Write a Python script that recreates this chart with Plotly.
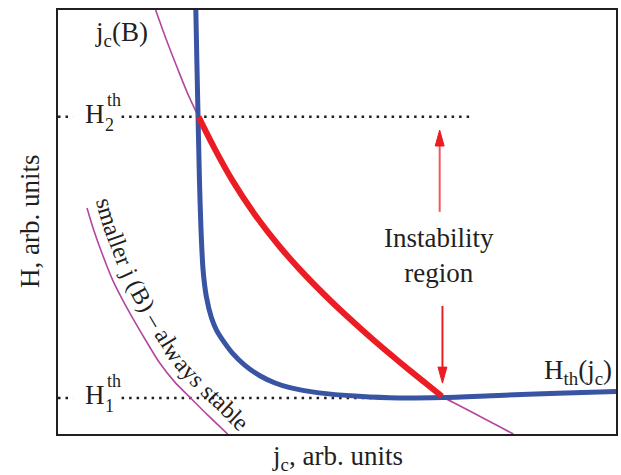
import numpy as np
import plotly.graph_objects as go

# Threshold field H_th(j_c): near-vertical branch, knee and shallow minimum
hth_jc = [2.47, 2.488, 2.51, 2.535, 2.563, 2.60, 2.66, 2.75, 2.84, 2.98, 3.13, 3.34,
          3.61, 3.88, 4.14, 4.68, 5.39, 6.11, 6.88, 7.89, 8.96, 10.0]
hth_h = [10.0, 8.82, 7.48, 5.99, 4.81, 3.87, 3.23, 2.74, 2.45, 2.16, 1.90, 1.63,
         1.38, 1.21, 1.10, 0.97, 0.89, 0.85, 0.86, 0.91, 0.96, 1.00]

# Critical current j_c(B)
jcb_jc = [1.75, 1.93, 2.13, 2.32, 2.52, 2.80, 3.13, 3.52, 3.96, 4.32, 4.77, 5.21,
          5.66, 6.11, 6.52, 6.88, 7.18, 7.54, 7.89, 8.16]
jcb_h = [10.0, 9.34, 8.66, 8.04, 7.48, 6.75, 5.97, 5.19, 4.44, 3.90, 3.29, 2.74,
         2.21, 1.71, 1.27, 0.89, 0.68, 0.43, 0.19, 0.0]
unstable_from, unstable_to = 4, 15   # j_c(B) points lying above H_th

# A smaller j_c(B) that never crosses H_th
small_jc = [0.52, 0.64, 0.80, 0.98, 1.16, 1.38, 1.59, 1.82, 2.09, 2.36, 2.68, 3.04]
small_h = [5.33, 4.81, 4.22, 3.63, 3.16, 2.64, 2.17, 1.68, 1.23, 0.87, 0.45, 0.0]

# Threshold levels
h2_level = 7.48
h1_level = 0.85
h2_dots_end = 7.39
h1_dots_end = 6.88
label_gap = (0.27, 1.14)

BLUE = "#3a54a4"
RED = "#ec1c24"
MAGENTA = "#b3479f"
INK = "#231f20"
FONT = "Liberation Serif"
FS = 27

W, H = 621, 475
M = dict(l=58, r=3, t=10, b=41)
XR, YR = (0, 10), (0, 10)
pw, ph = W - M["l"] - M["r"], H - M["t"] - M["b"]


def to_px(x, y):
    x, y = np.asarray(x, float), np.asarray(y, float)
    return (M["l"] + (x - XR[0]) / (XR[1] - XR[0]) * pw,
            M["t"] + (YR[1] - y) / (YR[1] - YR[0]) * ph)


def from_px(px, py):
    return (XR[0] + (px - M["l"]) / pw * (XR[1] - XR[0]),
            YR[1] - (py - M["t"]) / ph * (YR[1] - YR[0]))


fig = go.Figure()

dot = dict(color=INK, width=2.5, dash="2.5px,5px")
for lvl, end in ((h2_level, h2_dots_end), (h1_level, h1_dots_end)):
    fig.add_trace(go.Scatter(x=[XR[0], label_gap[0], None, label_gap[1], end],
                             y=[lvl, lvl, None, lvl, lvl],
                             mode="lines", line=dot, connectgaps=False))

spl = dict(shape="spline", smoothing=0.8)
fig.add_trace(go.Scatter(x=small_jc, y=small_h, mode="lines",
                         line=dict(color=MAGENTA, width=1.6, **spl)))
fig.add_trace(go.Scatter(x=jcb_jc, y=jcb_h, mode="lines",
                         line=dict(color=MAGENTA, width=1.6, **spl)))
fig.add_trace(go.Scatter(x=hth_jc, y=hth_h, mode="lines",
                         line=dict(color=BLUE, width=5, **spl)))
fig.add_trace(go.Scatter(x=jcb_jc[unstable_from:unstable_to + 1],
                         y=jcb_h[unstable_from:unstable_to + 1], mode="lines",
                         line=dict(color=RED, width=6, **spl)))

# Arrows bounding the instability region
x_per_px = (XR[1] - XR[0]) / pw
y_per_px = (YR[1] - YR[0]) / ph
head_len, head_half = 16 * y_per_px, 4.5 * x_per_px
arrows = [
    (6.84, 5.24, 7.17, "#f0585c"),   # upward: x, tail, tip
    (6.89, 3.02, 1.20, RED),         # downward
]
shapes = []
for ax_, tail, tip, col in arrows:
    sgn = 1 if tip > tail else -1
    base = tip - sgn * head_len
    shapes.append(dict(type="line", xref="x", yref="y", x0=ax_, x1=ax_, y0=tail, y1=base,
                       line=dict(color=col, width=2)))
    shapes.append(dict(type="path", xref="x", yref="y",
                       path=f"M{ax_ - head_half},{base} L{ax_},{tip} L{ax_ + head_half},{base} Z",
                       fillcolor=RED, line=dict(color=RED, width=1)))

ann = []


def label(x, y, text, size=FS, xshift=0, yshift=0, angle=0, xanchor="center"):
    ann.append(dict(x=x, y=y, xref="x", yref="y", text=text, showarrow=False,
                    font=dict(family=FONT, size=size, color=INK), xshift=xshift,
                    yshift=yshift, textangle=angle, xanchor=xanchor, yanchor="middle"))


label(1.14, 9.43, "j<sub>c</sub>(B)")
for lvl, idx in ((h2_level, "2"), (h1_level, "1")):
    label(0.66, lvl, "H", yshift=3)
    label(0.66, lvl, idx, size=18, xshift=15, yshift=-8)
    label(0.66, lvl, "th", size=18, xshift=19, yshift=17)
label(6.82, 4.2, "Instability<br>region")
label(9.97, 1.46, "H<sub>th</sub>(j<sub>c</sub>)", xanchor="right")

# Caption set along the smaller j_c(B) curve, one glyph at a time
caption = "smaller j (B) – always stable"
cap_size = 24
adv = {"s": 389, "m": 778, "a": 444, "l": 278, "e": 444, "r": 333, " ": 250, "j": 278,
       "(": 333, "B": 667, ")": 333, "–": 500, "w": 722, "y": 500, "t": 278, "b": 500}
gap_px = 18          # distance of the glyph centre line from the curve
lead_px = 5          # caption starts this far before the curve begins
tail_px = 60         # room past the curve's end for the last glyphs

cx, cy = to_px(small_jc, small_h)
t0 = np.array([cx[1] - cx[0], cy[1] - cy[0]])
t0 /= np.hypot(*t0)
t1 = np.array([cx[-1] - cx[-2], cy[-1] - cy[-2]])
t1 /= np.hypot(*t1)
cx = np.concatenate([[cx[0] - lead_px * t0[0]], cx, [cx[-1] + tail_px * t1[0]]])
cy = np.concatenate([[cy[0] - lead_px * t0[1]], cy, [cy[-1] + tail_px * t1[1]]])
seg = np.hypot(np.diff(cx), np.diff(cy))
s = np.concatenate([[0], np.cumsum(seg)])
fine = np.linspace(0, s[-1], 800)
fx, fy = np.interp(fine, s, cx), np.interp(fine, s, cy)
tx, ty = np.gradient(fx), np.gradient(fy)
k = np.ones(31) / 31
tx = np.convolve(np.pad(tx, 15, mode="edge"), k, mode="valid")
ty = np.convolve(np.pad(ty, 15, mode="edge"), k, mode="valid")
nrm = np.hypot(tx, ty)
tx, ty = tx / nrm, ty / nrm
ox, oy = fx + gap_px * ty, fy - gap_px * tx
so = np.concatenate([[0], np.cumsum(np.hypot(np.diff(ox), np.diff(oy)))])

pos = 0.0
for ch in caption:
    w = adv[ch] / 1000 * cap_size
    c = pos + w / 2
    pos += w
    if ch == " ":
        continue
    px_, py_ = np.interp(c, so, ox), np.interp(c, so, oy)
    ang = np.degrees(np.arctan2(np.interp(c, so, ty), np.interp(c, so, tx)))
    xd, yd = from_px(px_, py_)
    label(float(xd), float(yd), ch, size=cap_size, angle=float(ang))

tf = dict(family=FONT, size=FS, color=INK)
ann.append(dict(x=0.5, y=0, xref="paper", yref="paper", text="j<sub>c</sub>, arb. units",
                showarrow=False, font=tf, yshift=-24, yanchor="middle"))
ann.append(dict(x=0, y=0.5, xref="paper", yref="paper", text="H, arb. units",
                showarrow=False, font=tf, xshift=-28, textangle=-90, xanchor="center"))

axis = dict(showgrid=False, zeroline=False, showticklabels=False,
            ticks="", showline=True, linecolor=INK, linewidth=1.5, mirror=True)
fig.update_layout(width=W, height=H, margin=M,
                  paper_bgcolor="white", plot_bgcolor="white", showlegend=False,
                  xaxis=dict(range=list(XR), **axis), yaxis=dict(range=list(YR), **axis),
                  shapes=shapes, annotations=ann)
fig.write_html("out.html")
